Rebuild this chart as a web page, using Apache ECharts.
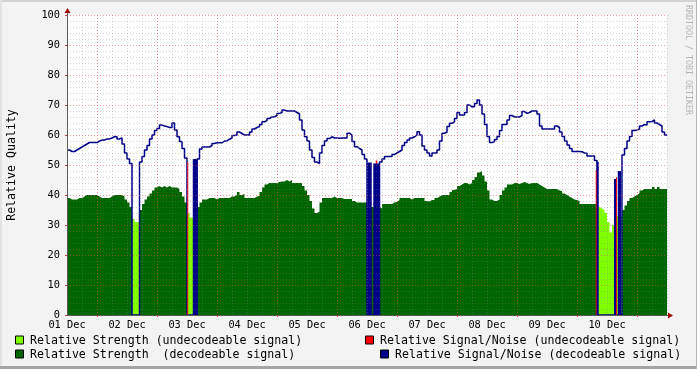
<!DOCTYPE html>
<html><head><meta charset="utf-8">
<script src="https://cdn.jsdelivr.net/npm/echarts@6/dist/echarts.min.js"></script>
<style>html,body{margin:0;padding:0;background:#f3f3f3}#c{width:697px;height:369px}</style>
</head><body><div id="c"></div>
<script>
// ---- data (hourly samples, hour 0 = 01 Dec 00:00) ----
const dayLabels = ['01 Dec','02 Dec','03 Dec','04 Dec','05 Dec','06 Dec','07 Dec','08 Dec','09 Dec','10 Dec'];
const yTickLabels = [0,10,20,30,40,50,60,70,80,90,100];

// Relative Strength (one row per day, 24 hourly values)
const strength = [
  39,38.5,38.5,38.5,39,39,39.5,40,40,40,40,40,39.5,39,39,39,39,39.5,40,40,40,40,39.5,38.5,
  37.5,36,32,31,31,35,37,38.5,39.5,40.5,41.5,42.5,43,42.5,43,42.5,43,42.5,42.5,42.5,42,41,39.5,37.5,
  34,32.5,32,33,36,37.5,38.5,38.5,39,39,39,38.5,39,39,39,39,39,39.5,39.5,40,41,40,40.3,39,
  39,39,39,39.5,39.7,41,42.5,43.5,44,44,44,44,44.3,44.5,44.5,45,44.5,45,44,44,44,44,43,41.5,
  40,38,35.5,34,34.5,37.5,39,39,39,39,39.5,39,39,39,38.7,38.7,38.7,38.7,38,37.5,37.5,37.5,37.5,37.5,
  36,36,36,36,36,35.5,37,37,37,37,37.5,37.7,38.3,39,39,39,39,38.5,39,39,39,39,39,38,
  37.8,38.3,38.3,39,39.4,40,40,40,40,41,41.7,42,43,43.5,44,44,43.5,44,45,46,47.5,48,46.5,44.5,
  41.5,38.5,38,38,38.5,40,41.5,42.5,43.5,43.5,44,44,43.7,44,44.3,44,43.7,44,44,44,43.5,43,42.5,42,
  42,42,42,42,41.5,41.3,40.5,40,39.5,39,38.5,38.3,38,37,37,37,37,37,37,37,36,35.5,35,34,
  31,27.5,30,31,33,33,35,36.5,38,39,39.5,40,40.5,41.5,42,42,42,42,42.7,42,42.7,42,42,42
];
// hours (inclusive ranges) where the signal was undecodeable
const undecodeable = [[26,28],[48,51],[212,221]];

// Relative Signal/Noise (decodeable), 0 while nothing decoded
const snr = [
  55,54.5,54.5,55,55.5,56,56.5,57,57.5,57.5,57.5,57.5,58,58.3,58.3,58.7,58.7,59,59.4,59.4,58.7,59,57,54,
  52,50.5,0,0,0,51,52.8,55,56.5,58.7,60,61.5,62.2,63.3,63,62.8,62.5,62.5,64,61.7,59.4,57.8,55.5,52.3,
  0,0,0,0,52,55.3,56,56,56,56.5,57.2,57.4,57.4,57.4,58,58,58.6,59,59.8,60,61,60.5,60,60,
  60,61,62,62.5,62.8,63.5,64.4,64.8,65.5,66,66.1,66.5,67.2,67.5,68.3,68,68,68,68,67.5,67,65,61.7,59.4,
  58,55,52.5,51,50.5,54,56.5,58,58.8,59.4,59,59,58.9,59,59,59,60.6,60,57.8,56.1,55.5,55,53.5,52,
  0,0,0,0,0,51,52,52.8,52.8,52.8,53.5,54,54.5,55,56.5,57.5,58.3,59,59.4,60,61.1,60,56.3,55,
  54,53,54,54,55,58,60.6,61,62.8,63.9,64.4,65.5,67.5,66.7,66.7,67.5,70,69.4,69.4,70.5,71.7,70,67,63.5,
  59.5,57.5,57.8,58.5,59.5,61.5,63.5,63.5,65,66.5,66,66,66,66.5,67.8,67.2,67.5,68,68,68,67,63,62,62,
  62,62,62,63,62.5,61,59.5,58,56.7,55.5,54.5,54.5,54.5,54.4,54,53.9,53,53,53,51.5,0,0,0,0,
  0,0,0,0,0,0,53.3,55.5,58,59.5,61.5,61.7,62,63,63.5,63.3,64.4,64.5,65,64,63.5,63,61,60
];
// short bursts of decodeable S/N (start hour, end hour, value)
const snrBurstStart = [50.3, 120.1, 122.5, 211.9, 218.8, 220.3];
const snrBurstEnd   = [52.3, 121.9, 124.8, 212.7, 219.6, 221.6];
const snrBurstValue = [52, 50.8, 50.5, 51, 45.3, 48];
// undecodeable S/N spikes
const snrUndecStart = [48.1, 123.5, 211.5, 219.6];
const snrUndecEnd   = [48.5, 124.1, 211.9, 220.0];
const snrUndecValue = [51, 51.5, 48.3, 46];

const legendLabels = [
  'Relative Strength (undecodeable signal)',
  'Relative Strength  (decodeable signal)',
  'Relative Signal/Noise (undecodeable signal)',
  'Relative Signal/Noise (decodeable signal)'
];

// ---- helpers ----
function isUndec(i){ return undecodeable.some(r => i >= r[0] && i <= r[1]); }
function stepData(vals, keep){
  const out = [];
  for (let i = 0; i < vals.length; i++){
    if (!keep(i)) continue;
    out.push([i, vals[i]]);
    if (i + 1 === vals.length || !keep(i + 1)){
      out.push([i + 1, vals[i]]);
      out.push([i + 1, '-']);
    }
  }
  return out;
}
function spanRender(color){
  return function(params, api){
    const p0 = api.coord([api.value(0), api.value(2)]);
    const p1 = api.coord([api.value(1), 0]);
    return {type:'rect', shape:{x:p0[0], y:p0[1], width:p1[0]-p0[0], height:p1[1]-p0[1]}, style:{fill:color}};
  };
}

const FONT = '"DejaVu Sans Mono", monospace';
const GRID = 'rgba(128,128,128,0.33)';
const MGRID = 'rgba(235,80,80,0.55)';
const AXIS = '#5a5a5a';
const C_UNDEC = '#80ff00', C_DEC = '#006600', C_RED = '#ff0000', C_BLUE = '#000088';

const chart = echarts.init(document.getElementById('c'), null, {renderer:'canvas'});
const legendColors = [C_UNDEC, C_DEC, C_RED, C_BLUE];
const legendPos = [[15,340.5],[15,354.5],[365,340.5],[380,354.5]];
const graphics = [
  {type:'rect', z:10, shape:{x:0,y:0,width:697,height:2}, style:{fill:'#d2d2d2'}},
  {type:'rect', z:10, shape:{x:0,y:0,width:2,height:369}, style:{fill:'#e2e2e2'}},
  {type:'rect', z:10, shape:{x:0,y:366,width:697,height:3}, style:{fill:'#a4a4a4'}},
  {type:'rect', z:10, shape:{x:696,y:0,width:1,height:369}, style:{fill:'#b4b4b4'}},
  {type:'line', z:10, shape:{x1:67.5,y1:12,x2:67.5,y2:15}, style:{stroke:AXIS, lineWidth:1}},
  {type:'line', z:10, shape:{x1:667,y1:315.5,x2:669,y2:315.5}, style:{stroke:AXIS, lineWidth:1}},
  {type:'polygon', z:10, shape:{points:[[67.5,8],[64.5,13],[70.5,13]]}, style:{fill:'#a00000'}},
  {type:'polygon', z:10, shape:{points:[[673,315.5],[668,312.5],[668,318.5]]}, style:{fill:'#a00000'}},
  {type:'text', z:10, x:688, y:5, rotation:-Math.PI/2,
   style:{text:'RRDTOOL / TOBI OETIKER', font:'8.3px ' + FONT, fill:'#b5b5b5', align:'left', verticalAlign:'middle'}}
];
legendLabels.forEach((t, i) => {
  const [x, y] = legendPos[i];
  graphics.push({type:'rect', z:10, shape:{x:x+0.5, y:y-4.5, width:8, height:8}, style:{fill:legendColors[i], stroke:'#000', lineWidth:1}});
  graphics.push({type:'text', z:10, x:x+15, y:y, style:{text:t, font:'11.6px ' + FONT, fill:'#000', align:'left', verticalAlign:'middle'}});
});

chart.setOption({
  animation:false,
  backgroundColor:'#f3f3f3',
  grid:[
    {left:67, top:15, width:600, height:300, show:true, backgroundColor:'#ffffff', borderWidth:0,
     containLabel:false, outerBoundsMode:'none'},
    // helper grid shifted by half a day: carries the noon (major) vertical grid lines
    {left:97, top:15, width:600, height:300, show:false, containLabel:false, outerBoundsMode:'none'}
  ],
  xAxis:[
    {type:'value', gridIndex:0, min:0, max:240, interval:6, z:5,
     axisLine:{show:true, onZero:false, lineStyle:{color:AXIS, width:1}},
     axisTick:{show:false},
     axisLabel:{margin:5, color:'#000', fontFamily:FONT, fontSize:10.3,
       formatter:v => (v % 24 === 0 && v < 240) ? dayLabels[v/24] : ''},
     splitLine:{show:true, lineStyle:{color:GRID, width:1, type:[1,2]}}},
    {type:'value', gridIndex:1, min:0, max:240, interval:24, z:6, position:'bottom',
     axisLine:{show:false}, axisLabel:{show:false},
     axisTick:{show:true, length:2, lineStyle:{color:'#d04040'}},
     splitLine:{show:true, showMaxLine:false, lineStyle:{color:MGRID, width:1, type:[1,2]}}}
  ],
  yAxis:[
    {type:'value', gridIndex:0, min:0, max:100, interval:10, z:5,
    name:'Relative Quality', nameLocation:'middle', nameGap:49,
    nameTextStyle:{fontFamily:FONT, fontSize:11.6, color:'#000'},
    axisLine:{show:true, lineStyle:{color:AXIS, width:1}},
    axisTick:{show:true, length:2, lineStyle:{color:'#d04040'}},
    axisLabel:{margin:7, color:'#000', fontFamily:FONT, fontSize:10.3,
      formatter:v => yTickLabels.includes(v) ? String(v) : ''},
    splitLine:{show:true, lineStyle:{color:MGRID, width:1, type:[1,2]}},
    minorTick:{show:false, splitNumber:5},
    minorSplitLine:{show:true, lineStyle:{color:GRID, width:1, type:[1,2]}}},
    {type:'value', gridIndex:1, min:0, max:100, show:false}
  ],
  graphic: graphics,
  series:[
    {type:'line', name:'strengthDec', step:'end', z:1, symbol:'none', silent:true,
     data: stepData(strength, i => !isUndec(i)),
     lineStyle:{width:0}, areaStyle:{color:C_DEC, opacity:1}},
    {type:'line', name:'strengthUndec', step:'end', z:1, symbol:'none', silent:true,
     data: stepData(strength, i => isUndec(i)),
     lineStyle:{width:0}, areaStyle:{color:C_UNDEC, opacity:1}},
    {type:'line', name:'snr', step:'end', z:2, symbol:'none', silent:true,
     data: stepData(snr, () => true),
     lineStyle:{width:1.5, color:C_BLUE}},
    {type:'custom', name:'snrUndec', z:3, silent:true, renderItem: spanRender(C_RED),
     encode:{x:[0,1], y:2},
     data: snrUndecStart.map((s, i) => [s, snrUndecEnd[i], snrUndecValue[i]])},
    {type:'custom', name:'snrBurst', z:4, silent:true, renderItem: spanRender(C_BLUE),
     encode:{x:[0,1], y:2},
     data: snrBurstStart.map((s, i) => [s, snrBurstEnd[i], snrBurstValue[i]])}
  ]
});
</script></body></html>
